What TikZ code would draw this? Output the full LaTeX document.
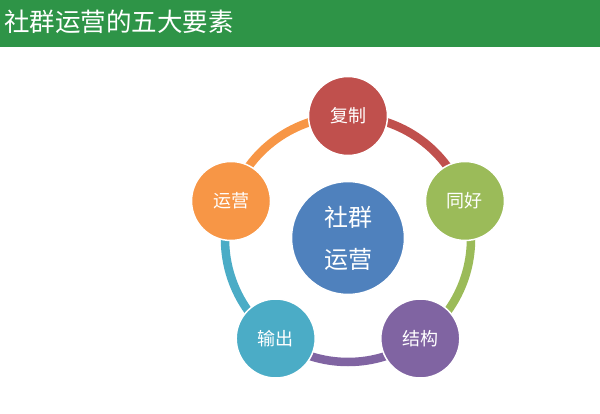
\documentclass[tikz,border=0pt]{standalone}
\usepackage{fontspec}
\usetikzlibrary{calc}
\newfontfamily\cjk{Noto Sans CJK SC}
\definecolor{hdr}{HTML}{2E9447}
\definecolor{cred}{HTML}{C0504D}
\definecolor{cgreen}{HTML}{9BBB59}
\definecolor{cpurple}{HTML}{8064A2}
\definecolor{cteal}{HTML}{4BACC6}
\definecolor{corange}{HTML}{F79646}
\definecolor{cblue}{HTML}{4F81BD}
\tikzset{
  elem/.style={circle, minimum size=79pt, inner sep=0pt, draw=white, line width=1.5pt, text=white, font=\cjk\fontsize{18}{20}\selectfont},
  core/.style={circle, minimum size=113pt, inner sep=0pt, draw=white, line width=1.5pt, fill=cblue, text=white, align=center, font=\cjk\fontsize{24}{42}\selectfont},
  ringseg/.style={line width=8.5pt}
}
\begin{document}
\begin{tikzpicture}[x=1pt,y=-1pt]
\useasboundingbox (0,0) rectangle (600,414);
\fill[hdr] (0,0) rectangle (600,47) ;
\node[anchor=west, text=white, font=\cjk\fontsize{25.5}{28}\selectfont, inner sep=0pt] (title) at (4,22) {社群运营的五大要素};
\coordinate (O) at (348,239);
\draw[ringseg, cred] (O) ++(-90:123) arc[start angle=-90, end angle=-18, radius=123];
\draw[ringseg, cgreen] (O) ++(-18:123) arc[start angle=-18, end angle=54, radius=123];
\draw[ringseg, cpurple] (O) ++(54:123) arc[start angle=54, end angle=126, radius=123];
\draw[ringseg, cteal] (O) ++(126:123) arc[start angle=126, end angle=198, radius=123];
\draw[ringseg, corange] (O) ++(198:123) arc[start angle=198, end angle=270, radius=123];
\node[elem, fill=cred] (fz) at ($(O)+(-90:123)$) {复制};
\node[elem, fill=cgreen] (th) at ($(O)+(-18:123)$) {同好};
\node[elem, fill=cpurple] (jg) at ($(O)+(54:123)$) {结构};
\node[elem, fill=cteal] (sc) at ($(O)+(126:123)$) {输出};
\node[elem, fill=corange] (yy) at ($(O)+(198:123)$) {运营};
\node[core] (c) at (348,238) {社群\\运营};
\end{tikzpicture}
\end{document}
